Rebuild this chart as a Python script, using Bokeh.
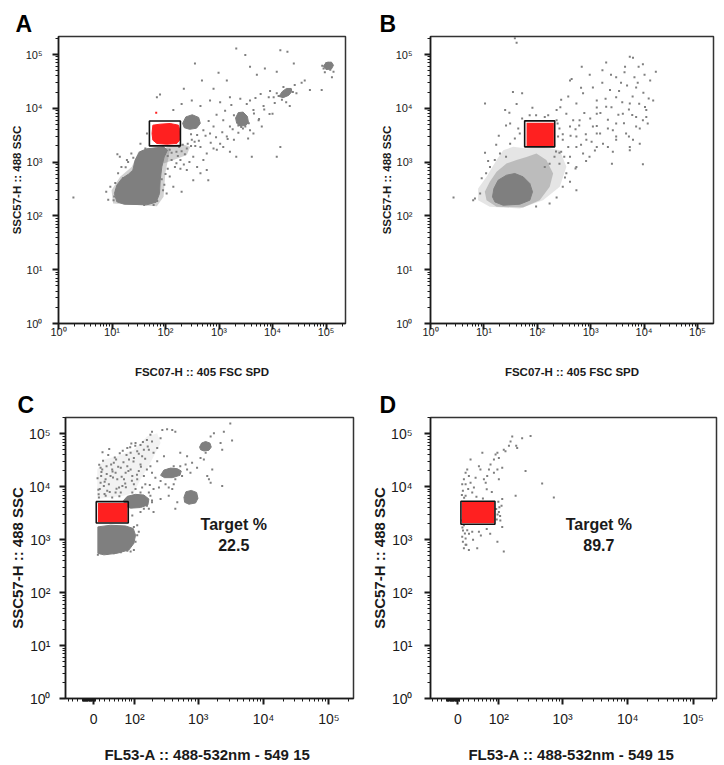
import math
from bokeh.plotting import figure
from bokeh.models import FixedTicker
from bokeh.layouts import column, row
from bokeh.embed import file_html
from bokeh.resources import INLINE
from bokeh.core.properties import value

FONT = "Liberation Sans"
GRAY = "#7f7f7f"
RED = "#ff2020"
INK = "#1a1a1a"

# ---------------- tick labels ----------------
log_ticks = [1, 10, 100, 1000, 10000, 100000]
log_tick_labels = ["10\u2070", "10\u00b9", "10\u00b2", "10\u00b3", "10\u2074", "10\u2075"]
fl_ticks = [0, 100, 1000, 10000, 100000]
fl_tick_labels = ["0", "10\u00b2", "10\u00b3", "10\u2074", "10\u2075"]

# ---------------- panel A : FSC07-H vs SSC57-H ----------------
a_dot_x = [1.9, 7.8, 9.3, 11.5, 12.6, 13, 10.7, 8.5, 69, 220,
           355, 480, 980, 790, 1400, 2100, 3100, 3800, 5100, 7200,
           12000, 14000, 19000, 25000, 35000, 50000, 83000, 129000, 138000, 680,
           1050, 1600, 2500, 450, 310, 140, 200, 4400, 6800, 8500,
           10500, 12000, 28000, 10000, 5500, 6300, 3800, 3500, 4400, 1900,
           1400, 1050, 910, 790, 590, 450, 680, 510, 390, 310,
           250, 790, 1200, 1600, 2500, 1900, 4100, 12000, 14000, 510,
           390, 450, 250, 190, 150, 120, 140, 200, 105, 98,
           120, 160, 330, 590, 630, 330, 79, 45, 34, 42,
           23, 19, 14, 15, 250, 21000, 3800, 2100, 1600, 1200,
           110, 130, 170, 200, 230, 180, 210, 260, 300, 350,
           130, 160, 190, 220, 280, 85, 95, 90, 100, 110,
           12, 16, 18, 20, 25, 11, 60, 40, 70,
           13000, 15000, 22000, 24000,
           90000, 100000, 120000, 95000, 85000, 110000, 125000,
           2600, 2800, 2300, 3100,
           420, 560, 700, 880, 1150, 1450, 1800, 2300, 2900, 3600,
           4500, 5600, 7000, 8800, 11000, 15000, 18000, 300, 360, 640,
           900, 1300, 1700, 3300, 4800, 6000, 9000, 16000, 26000, 40000]
a_dot_y = [220, 280, 350, 410, 1400, 620, 195, 200, 16000, 23000,
           68000, 33000, 46000, 23000, 33000, 130000, 98000, 59000, 42000, 55000,
           48000, 120000, 112000, 68000, 30000, 22000, 22000, 38000, 48000, 14000,
           13000, 16000, 15000, 11000, 14000, 9300, 12000, 9300, 11000, 16000,
           16000, 19000, 19000, 7900, 6000, 4600, 3900, 2750, 3400, 2600,
           3000, 2200, 1700, 1800, 1450, 1900, 3400, 3900, 3200, 2600,
           1800, 4600, 6000, 4600, 4900, 7400, 1260, 1260, 1900, 1100,
           810, 620, 710, 1100, 810, 540, 350, 280, 260, 1450,
           1700, 1550, 1260, 710, 460, 460, 18000, 3400, 2200, 1800,
           1450, 1100, 1260, 810, 6000, 11000, 14000, 1260, 1550, 1900,
           1300, 1500, 1300, 1600, 1400, 1900, 2100, 2200, 2000, 2400,
           1100, 950, 750, 900, 1000, 480, 380, 300, 600, 750,
           300, 500, 800, 1000, 1200, 230, 160, 160, 190,
           17000, 17500, 22000, 20000,
           55000, 68000, 52000, 47000, 62000, 70000, 63000,
           4500, 4200, 4800, 4600,
           2500, 3100, 2300, 2900, 3600, 2700, 4100, 3500, 6800, 5300,
           8000, 6300, 9500, 7800, 12500, 14500, 13000, 3300, 2000, 5800,
           7600, 9000, 11500, 12000, 15500, 18500, 21000, 25000, 27000, 33000]
a_blob_x = [12.3, 16.9, 44.8, 66.9, 77.3, 79.5, 85.4, 94.4, 109, 91.8,
            66.9, 44.8, 32.7, 27.1, 24.5, 20.3, 15.3, 12.3, 11.1]
a_blob_y = [183, 165, 161, 180, 261, 461, 817, 1250, 1670, 1920,
            1840, 1770, 1550, 1090, 708, 597, 495, 372, 261]
a_halo_x = [[10.5, 69, 92, 99, 114, 122, 69, 31, 23.5, 14.2, 9.8],
            [79, 106, 188, 289, 250, 141, 92]]
a_halo_y = [[170, 152, 226, 614, 1250, 1790, 1920, 1550, 817, 532, 301],
            [1250, 1920, 2220, 1920, 1350, 1090, 940]]
a_clusters_x = [[209, 240, 316, 417, 447, 380, 282, 224],
                [2040, 2290, 2820, 3390, 3550, 3160, 2510, 2140],
                [13200, 15100, 18200, 22400, 22900, 20000, 15800],
                [89100, 100000, 126000, 138000, 126000, 100000]]
a_clusters_y = [[5250, 6920, 7590, 6760, 5250, 4270, 4070, 4370],
                [6610, 8320, 8510, 7080, 5500, 4790, 4680, 5250],
                [16600, 20400, 23400, 23400, 20400, 17400, 15800],
                [60300, 70800, 72400, 63100, 53700, 52500]]
a_red_x = [58, 79, 122, 175, 188, 183, 163, 106, 69, 58, 56]
a_red_y = [4860, 5070, 5220, 4860, 3650, 2560, 2220, 2150, 2220, 2560, 3400]
a_red_dot_x = [67]
a_red_dot_y = [8300]
a_gate = [50, 190, 2000, 5800]   # left, right, bottom, top

# ---------------- panel B ----------------
b_dot_x = [38, 41, 10.5, 25, 41, 35, 52, 31, 81, 138,
           280, 410, 440, 680, 1100, 1950, 1660, 3000, 3700, 4400,
           5400, 6200, 7900, 10200, 16600, 14800, 7100, 3000, 2300, 1300,
           720, 540, 350, 230, 620, 1300, 1950, 4000, 7100, 9500,
           11000, 5400, 3000, 2100, 1300, 830, 540, 410, 1100, 1700,
           2600, 5400, 6200, 540, 720, 410, 540, 350, 540, 300,
           410, 2500, 9500, 230, 170, 95, 6.8, 6.3, 2.7, 8.5,
           9.1, 11, 13, 16, 20, 26, 31, 38, 47, 44,
           52, 72, 95, 160, 230, 260, 245, 300, 380, 280,
           210, 170, 138, 260, 320, 950, 1300, 3000, 4600, 7100,
           11000, 11700, 5400, 8300,
           520, 610, 810, 980, 1300, 1520, 2100, 2450, 3300, 3900,
           5200, 6100, 8100, 9700, 13000, 7600, 4800, 3400, 1900, 1300,
           760, 470, 420, 660, 1040, 1500, 2600, 4200, 6000, 10400,
           12200, 8300, 5200, 3000, 2100, 1200, 820, 520, 330, 380,
           260, 224, 300, 240, 19, 17, 26, 30, 10.5, 12,
           2400, 4300, 6600, 9500, 1650, 960, 660, 380, 270]
b_dot_y = [200000, 166000, 12300, 9300, 12000, 20000, 19000, 5200, 10200, 6900,
           14500, 33000, 35000, 59000, 24500, 71000, 51000, 38000, 30000, 59000,
           91000, 87000, 59000, 42000, 48000, 14000, 24500, 16000, 22000, 14000,
           19000, 12300, 7900, 9300, 6000, 7900, 10700, 7900, 6900, 6000,
           9300, 12300, 5200, 4200, 3400, 2600, 3000, 4600, 4600, 2200,
           1550, 1660, 2600, 1900, 1450, 1260, 810, 620, 300, 350,
           430, 930, 910, 220, 170, 150, 210, 195, 220, 260,
           500, 620, 810, 1100, 1450, 1260, 2200, 2750, 3400, 4200,
           6500, 7400, 7400, 7400, 6000, 4200, 3000, 2600, 1900, 1550,
           1260, 930, 810, 930, 1260, 1260, 1900, 3000, 3400, 4600,
           6900, 5200, 1900, 2200,
           4100, 4800, 3300, 6500, 4700, 8200, 6100, 10500, 7600, 13000,
           9500, 16500, 12100, 19500, 33000, 30000, 26500, 21000, 15000, 10400,
           8200, 6000, 3100, 2100, 2400, 3400, 3900, 5300, 7500, 10600,
           15200, 4200, 3000, 2600, 1900, 1650, 1050, 760, 520, 960,
           1500, 1580, 3300, 5200, 3100, 2100, 4800, 8300, 1500, 1050,
           42000, 47000, 38000, 66000, 30000, 42000, 24000, 16500, 10500]
b_blob_x = [16.1, 23.0, 47.1, 72.4, 81.3, 72.4, 54.3, 37.9, 26.5, 18.5, 15.4, 14.5]
b_blob_y = [182, 158, 165, 196, 280, 400, 532, 614, 571, 461, 323, 226]
b_inner_x = [11.2, 17.3, 54.3, 111, 171, 198, 148, 96.4, 62.8, 40.8, 26.5, 17.3, 12.9, 10.4]
b_inner_y = [196, 148, 143, 196, 347, 614, 1090, 1450, 1250, 1090, 942, 659, 430, 280]
b_halo_x = [7.8, 12.9, 47.1, 128, 264, 351, 264, 128, 62.8, 35.3, 23.0, 17.3, 11.2, 7.8]
b_halo_y = [196, 148, 137, 196, 347, 817, 1670, 1920, 1790, 1920, 1670, 1090, 532, 323]
b_red = [63, 204, 2000, 5370]
b_gate = [58, 212, 1920, 5850]

# ---------------- panel C : FL53-A vs SSC57-H ----------------
c_dot_x = [9.5, 11, 12.5, 13.5, 15.5, 12.5, 18.5, 21.8, 19.8, 25,
           28.3, 31.7, 35.2, 23.7, 38.8, 42.8, 46.8, 51.2, 55.6, 42.8,
           35.2, 60, 64.5, 69.3, 55.6, 74.5, 80, 85.5, 91.5, 97.5,
           104, 91.5, 111, 118, 126, 134, 143, 111, 97.5, 85.5,
           74.5, 104, 126, 160, 182, 193, 172, 204, 233, 263,
           193, 280, 332, 399, 445, 297, 233, 182, 160, 143,
           193, 218, 263, 314, 352, 399, 248, 204, 178, 151,
           134, 126, 111, 297, 352, 420, 530, 640, 675, 760,
           565, 445, 420, 805, 675, 530, 1085, 1375, 1460, 1640,
           2200, 2330, 2470, 3100, 3300, 1740, 1550, 1300, 1220, 960,
           2330, 1550, 477, 445, 352, 263, 193, 172, 204, 126,
           91.5, 97.5, 111, 104, 85.5, 97.5, 7.6, 12.5, 25, 38.8,
           55.6, 74.5, 111, 118, 182, 193, 172, 160, 143,
           7, 8.5, 10, 14, 17, 20, 24, 27, 30, 33,
           37, 41, 45, 49, 53, 58, 63, 68, 72, 78,
           84, 90, 96, 103, 110, 118, 128, 138, 150, 165,
           9, 16, 22, 29, 36, 44, 52, 61, 70, 88]
c_dot_y = [6300, 9100, 12000, 16000, 21300, 22900, 10400, 13900, 7300, 8400,
           11200, 16000, 21300, 24600, 28400, 18500, 13900, 9700, 7800, 7800,
           6300, 10400, 13900, 18500, 22900, 24600, 33000, 21300, 16000, 11200,
           9100, 7800, 13900, 19900, 26400, 38000, 50000, 47000, 35000, 44000,
           54000, 67000, 62000, 77000, 96000, 72000, 50000, 44000, 54000, 83000,
           110000, 119000, 122000, 119000, 110000, 38000, 30500, 24600, 21300, 16000,
           18500, 14900, 12900, 11200, 9700, 9100, 9700, 9100, 10800, 11200,
           9700, 7800, 6800, 16000, 21300, 24600, 24600, 26400, 21300, 18500,
           16000, 13900, 11200, 28400, 38000, 44000, 35000, 16000, 13900, 21300,
           67000, 50000, 110000, 158000, 75000, 103000, 89000, 44000, 33000, 22900,
           10400, 12000, 5100, 3840, 6800, 5900, 5500, 3840, 3330, 3330,
           2880, 1750, 1220, 920, 600, 640, 518, 556, 540, 556,
           580, 620, 1880, 1410, 6800, 5100, 7800, 4400, 3840,
           14500, 8800, 26000, 19000, 31000, 12500, 17500, 40000, 8000, 26500,
           15000, 36000, 9200, 24000, 43000, 15500, 29000, 11500, 40000, 20000,
           56000, 13000, 30000, 60000, 17000, 42000, 24000, 70000, 34000, 58000,
           7200, 45000, 6800, 52000, 19500, 33000, 6600, 48000, 9800, 66000]
c_haze_x = [6.5, 6.5, 18.5, 46.8, 97.5, 160, 233, 263, 182, 126, 97.5, 64.5]
c_haze_y = [5900, 21300, 33000, 38000, 50000, 89000, 103000, 67000, 28400, 13900, 7800, 6800]
c_clusters_x = [[7.6, 31.7, 69.2, 95.2, 104, 97.5, 79.7, 46.8, 18.6, 7.6],
                [62.8, 74.5, 104, 143, 172, 166, 126, 85.4, 69.2],
                [263, 296, 376, 477, 549, 524, 399, 303],
                [604, 648, 783, 944, 990, 912, 720, 619],
                [1049, 1126, 1297, 1510, 1584, 1458, 1224, 1087]]
c_clusters_y = [[1750, 1880, 1820, 1630, 1220, 855, 642, 556, 518, 556],
                [5480, 6610, 7200, 7000, 5890, 4550, 4060, 3950, 4310],
                [16500, 20700, 22600, 22000, 19900, 16500, 14900, 14900],
                [6330, 8070, 8550, 7830, 6070, 4960, 4690, 5100],
                [56400, 67000, 71900, 67000, 56400, 49000, 47600, 50300]]
c_red = [7.6, 75.5, 2130, 4960]
c_gate = [4.7, 77.6, 2070, 5250]
c_note = ["Target %", "22.5"]
c_note_x = [3500, 3500]
c_note_y = [1950, 800]

# ---------------- panel D ----------------
d_dot_x = [10.6, 8.8, 7.6, 12.4, 13.7, 16.7, 10.6, 7.6, 13.7, 8.8,
           7.6, 10.6, 13.7, 16.7, 19.8, 23, 13.7, 18.5, 26.3, 29.7,
           33.2, 40.5, 44, 52.5, 57.2, 61.3, 66.3, 71, 82, 87.7,
           94.4, 100, 94.4, 82, 100, 114, 121, 129, 147, 156,
           166, 192, 199, 238, 322, 269, 188, 486, 735, 114,
           111, 100, 106, 114, 94.4, 121, 36.7, 19.8, 13.7, 26.3,
           40.5, 23, 48.6,
           90, 95, 102, 92, 98, 105, 20, 28, 45, 60,
           70, 15, 60, 75, 35, 50, 8, 9, 11, 7]
d_dot_y = [690, 920, 1140, 1310, 1060, 1510, 1880, 2320, 6800, 8400,
           11200, 13900, 18500, 21300, 16000, 12000, 11200, 9100, 7800, 9700,
           14900, 24600, 21300, 13900, 12000, 16000, 21300, 26400, 33000, 41000,
           44000, 35000, 21300, 18500, 13900, 22900, 50000, 47000, 60000, 72000,
           89000, 60000, 54000, 83000, 91000, 19900, 6800, 11600, 6300, 5900,
           4400, 3330, 2320, 1750, 920, 600, 690, 640, 800, 1410,
           1410, 33000, 44000,
           3800, 3000, 4100, 2400, 5200, 2800, 1300, 1000, 1200, 1600,
           1300, 800, 9000, 8000, 6500, 6000, 1700, 1500, 6200, 7000]
d_red = [7, 83, 2050, 5200]
d_gate = [5.3, 85.5, 1960, 5330]
d_note = ["Target %", "89.7"]
d_note_x = [3600, 3600]
d_note_y = [1950, 800]


def fl(v):
    """biexponential (arcsinh) display position of an FL53-A value, in decades"""
    return math.asinh(v / 50.0) / math.log(10.0)


def make_fig(width, height, x_range, y_range, borders, letter, letter_dx, x_log=True):
    p = figure(width=width, height=height, x_range=x_range, y_range=y_range,
               x_axis_type="log" if x_log else "linear", y_axis_type="log",
               output_backend="svg", toolbar_location=None,
               min_border_left=borders[0], min_border_right=borders[1],
               min_border_top=borders[2], min_border_bottom=borders[3])
    p.grid.visible = False
    p.outline_line_color = "#333333"
    p.outline_line_width = 1.5
    p.background_fill_color = "white"
    p.border_fill_color = "white"
    p.title.text = letter
    p.title.align = "left"
    p.title.offset = letter_dx
    p.title.standoff = 0
    p.title.text_font = FONT
    p.title.text_font_size = "23px"
    p.title.text_font_style = "bold"
    p.title.text_color = "black"
    return p


def style_axis(ax, tick_px, label_px, label_standoff, axis_label_standoff):
    ax.axis_line_color = INK
    ax.axis_line_width = 1.5
    ax.major_tick_line_color = INK
    ax.major_tick_line_width = 2
    ax.minor_tick_line_color = INK
    ax.minor_tick_line_width = 1
    ax.major_tick_out = 6
    ax.major_tick_in = 0
    ax.minor_tick_out = 3
    ax.minor_tick_in = 0
    ax.major_label_text_font = FONT
    ax.major_label_text_font_size = tick_px
    ax.major_label_text_color = INK
    ax.major_label_standoff = label_standoff
    ax.axis_label_text_font = FONT
    ax.axis_label_text_font_size = label_px
    ax.axis_label_text_font_style = "bold"
    ax.axis_label_text_color = INK
    ax.axis_label_standoff = axis_label_standoff


log_minor = [m * 10 ** k for k in range(0, 6) for m in range(2, 10)]
fl_major = [round(fl(v), 6) for v in fl_ticks]
fl_minor_vals = ([-50, -40, -30] + list(range(-20, 4)) + list(range(10, 100, 10)) +
                 list(range(200, 1000, 100)) + list(range(2000, 10000, 1000)) +
                 list(range(20000, 100000, 10000)) + [200000])
fl_minor = [round(fl(v), 6) for v in fl_minor_vals]


def log_y_axis(p, tick_px, label_px, std, lstd):
    p.yaxis.ticker = FixedTicker(ticks=log_ticks, minor_ticks=log_minor)
    p.yaxis.major_label_overrides = dict(zip(log_ticks, log_tick_labels))
    p.yaxis.axis_label = "SSC57-H :: 488 SSC"
    style_axis(p.yaxis[0], tick_px, label_px, std, lstd)


def gate(p, g, xf=lambda v: v):
    p.quad(left=[xf(g[0])], right=[xf(g[1])], bottom=[g[2]], top=[g[3]],
           fill_color=None, line_color="#111111", line_width=1.6)


def red_box(p, r, xf=lambda v: v):
    p.quad(left=[xf(r[0])], right=[xf(r[1])], bottom=[r[2]], top=[r[3]],
           fill_color=RED, line_color=None)


# ---------------- A ----------------
A_XMAX = 10 ** 5.364
AB_YMAX = 10 ** 5.335
pA = make_fig(362, 380, (1, A_XMAX), (1, AB_YMAX), (58, 17, 36, 57), "A", -43)
pA.patches(a_halo_x, a_halo_y, fill_color=GRAY, fill_alpha=0.35, line_color=None)
pA.patch(a_blob_x, a_blob_y, fill_color=GRAY, line_color=GRAY, line_width=1)
pA.patches(a_clusters_x, a_clusters_y, fill_color=GRAY, line_color=GRAY, line_width=1)
pA.scatter(a_dot_x, a_dot_y, marker="square", size=2, fill_color=GRAY, line_color=None)
pA.patch(a_red_x, a_red_y, fill_color=RED, line_color=RED, line_width=1)
pA.scatter(a_red_dot_x, a_red_dot_y, marker="square", size=2, fill_color=RED, line_color=None)
gate(pA, a_gate)
pA.xaxis.ticker = FixedTicker(ticks=log_ticks, minor_ticks=log_minor)
pA.xaxis.major_label_overrides = dict(zip(log_ticks, log_tick_labels))
pA.xaxis.axis_label = "FSC07-H :: 405 FSC SPD"
style_axis(pA.xaxis[0], "11px", "11.5px", -4, 25)
pA.xaxis.major_label_text_align = "left"
log_y_axis(pA, "11px", "11.5px", 10, 0)

# ---------------- B ----------------
B_XMAX = 10 ** 5.30
pB = make_fig(362, 380, (1, B_XMAX), (1, AB_YMAX), (68, 11, 36, 57), "B", -51)
pB.patch(b_halo_x, b_halo_y, fill_color=GRAY, fill_alpha=0.2, line_color=None)
pB.patch(b_inner_x, b_inner_y, fill_color=GRAY, fill_alpha=0.4, line_color=None)
pB.patch(b_blob_x, b_blob_y, fill_color=GRAY, line_color=GRAY, line_width=1)
pB.scatter(b_dot_x, b_dot_y, marker="square", size=2, fill_color=GRAY, line_color=None)
red_box(pB, b_red)
gate(pB, b_gate)
pB.xaxis.ticker = FixedTicker(ticks=log_ticks, minor_ticks=log_minor)
pB.xaxis.major_label_overrides = dict(zip(log_ticks, log_tick_labels))
pB.xaxis.axis_label = "FSC07-H :: 405 FSC SPD"
style_axis(pB.xaxis[0], "11px", "11.5px", -4, 25)
pB.xaxis.major_label_text_align = "left"
log_y_axis(pB, "11px", "11.5px", 12, 0)

# ---------------- C ----------------
CD_YMAX = 10 ** 5.31
pC = make_fig(362, 385, (-0.43, 3.98), (1, CD_YMAX), (65, 9, 37, 63), "C", -48, x_log=False)
pC.patch([fl(v) for v in c_haze_x], c_haze_y, fill_color=GRAY, fill_alpha=0.1, line_color=None)
pC.patches([[fl(v) for v in xs] for xs in c_clusters_x], c_clusters_y,
           fill_color=GRAY, line_color=GRAY, line_width=1)
pC.scatter([fl(v) for v in c_dot_x], c_dot_y, marker="square", size=2, fill_color=GRAY, line_color=None)
red_box(pC, c_red, fl)
gate(pC, c_gate, fl)
pC.text([fl(v) for v in c_note_x], c_note_y, text=c_note, text_font=value(FONT),
        text_font_size="16px", text_font_style="bold", text_align="center",
        text_baseline="middle", text_color=INK)

# ---------------- D ----------------
pD = make_fig(362, 385, (-0.42, 3.96), (1, CD_YMAX), (68, 8, 37, 63), "D", -51, x_log=False)
pD.scatter([fl(v) for v in d_dot_x], d_dot_y, marker="square", size=2, fill_color=GRAY, line_color=None)
red_box(pD, d_red, fl)
gate(pD, d_gate, fl)
pD.text([fl(v) for v in d_note_x], d_note_y, text=d_note, text_font=value(FONT),
        text_font_size="16px", text_font_style="bold", text_align="center",
        text_baseline="middle", text_color=INK)

for p, ystd in ((pC, 9), (pD, 12)):
    p.xaxis.ticker = FixedTicker(ticks=fl_major, minor_ticks=fl_minor)
    p.xaxis.major_label_overrides = dict(zip(fl_major, fl_tick_labels))
    p.xaxis.axis_label = "FL53-A :: 488-532nm - 549  15"
    style_axis(p.xaxis[0], "14px", "15px", 6, 16)
    log_y_axis(p, "14px", "15px", ystd, 0)

layout = column(row(pA, pB), row(pC, pD))
with open("out.html", "w", encoding="utf-8") as f:
    f.write(file_html(layout, INLINE))
